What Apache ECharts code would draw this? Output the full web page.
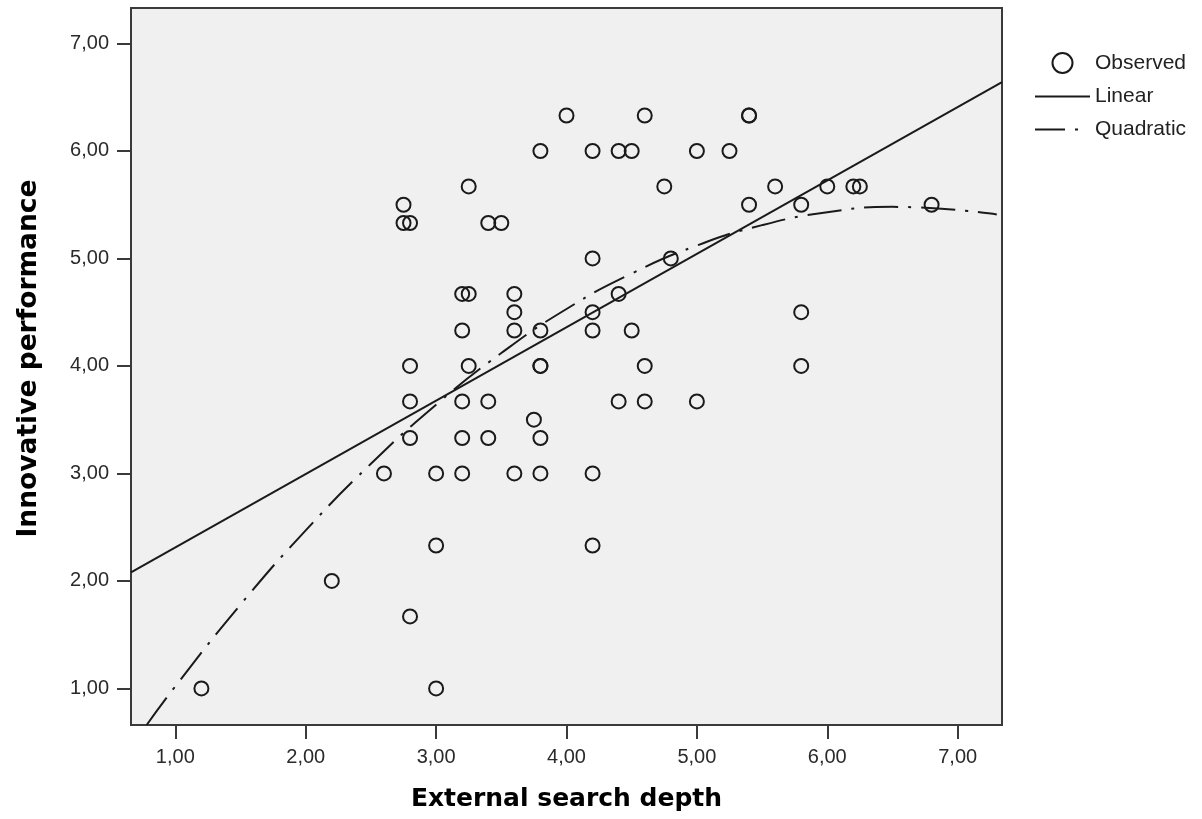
<!DOCTYPE html>
<html>

<head>
    <meta charset="utf-8">
    <title>Innovative performance vs External search depth</title>
    <script src="https://cdn.jsdelivr.net/npm/echarts@6/dist/echarts.min.js"></script>
    <style>
        html, body { margin: 0; padding: 0; background: #ffffff; }
    </style>
</head>

<body>
    <div id="main" style="width: 1202px;height:819px;"></div>
    <script type="text/javascript">
        // observed points (x = search depth, y = performance)
        var obsX = [4.0, 4.6, 5.4, 5.4,
            3.8, 4.2, 4.4, 4.5, 5.0, 5.25,
            3.25, 4.75, 5.6, 6.0, 6.2, 6.25,
            2.75, 5.4, 5.8, 6.8,
            2.75, 2.8, 3.4, 3.5,
            4.2, 4.8,
            3.2, 3.25, 3.6, 4.4,
            3.6, 4.2, 5.8,
            3.2, 3.6, 3.8, 4.2, 4.5,
            2.8, 3.25, 3.8, 3.8, 4.6, 5.8,
            2.8, 3.2, 3.4, 4.4, 4.6, 5.0,
            3.75,
            2.8, 3.2, 3.4, 3.8,
            2.6, 3.0, 3.2, 3.6, 3.8, 4.2,
            3.0, 4.2,
            2.2,
            2.8,
            1.2, 3.0];
        var obsY = [6.33, 6.33, 6.33, 6.33,
            6.0, 6.0, 6.0, 6.0, 6.0, 6.0,
            5.67, 5.67, 5.67, 5.67, 5.67, 5.67,
            5.5, 5.5, 5.5, 5.5,
            5.33, 5.33, 5.33, 5.33,
            5.0, 5.0,
            4.67, 4.67, 4.67, 4.67,
            4.5, 4.5, 4.5,
            4.33, 4.33, 4.33, 4.33, 4.33,
            4.0, 4.0, 4.0, 4.0, 4.0, 4.0,
            3.67, 3.67, 3.67, 3.67, 3.67, 3.67,
            3.5,
            3.33, 3.33, 3.33, 3.33,
            3.0, 3.0, 3.0, 3.0, 3.0, 3.0,
            2.33, 2.33,
            2.0,
            1.67,
            1.0, 1.0];

        // fitted lines
        var linearX = [0.66, 7.34];
        var linearY = [2.08, 6.64];
        var quadX = [0.78, 1.0, 1.5, 2.0, 2.5, 3.0, 3.5, 4.0, 4.5, 5.0, 5.5, 6.0, 6.5, 7.3];
        var quadY = [0.66, 1.02, 1.78, 2.47, 3.09, 3.64, 4.12, 4.53, 4.86, 5.12, 5.31, 5.43, 5.48, 5.41];

        var tickValues = [1, 2, 3, 4, 5, 6, 7];
        var xRange = [0.66, 7.34];
        var yRange = [0.66, 7.33];

        function pairs(xs, ys) {
            var out = [];
            for (var i = 0; i < xs.length; i++) {
                out.push([xs[i], ys[i]]);
            }
            return out;
        }

        function fmt(v) {
            return v.toFixed(2).replace('.', ',');
        }

        var myChart = echarts.init(document.getElementById('main'));

        var axisText = { fontFamily: 'Liberation Sans', fontSize: 20, color: '#2a2a2a' };
        var titleText = { fontFamily: 'DejaVu Sans', fontWeight: 'bold', fontSize: 25, color: '#000' };
        var dark = '#1a1a1a';

        // legend icons: plain stroke and dash + dot (last tiny piece only widens the box)
        var lineIcon = 'path://M0,0 L55,0 L55,2 L0,2 Z';
        var dashDotIcon = 'path://M0,0 L30,0 L30,2 L0,2 Z M40,0 L43,0 L43,2 L40,2 Z M55,0 L55,0.01 L54.99,0.01 Z';

        myChart.setOption({
            backgroundColor: '#ffffff',
            animation: false,
            grid: {
                left: 131, top: 8, right: 200, bottom: 94,
                show: true,
                backgroundColor: '#f0f0f0',
                borderColor: '#3a3a3a',
                borderWidth: 2,
                containLabel: false,
                outerBoundsMode: 'none'
            },
            legend: {
                orient: 'vertical',
                left: 1035,
                top: 52,
                padding: 0,
                itemWidth: 55,
                itemHeight: 20,
                itemGap: 12,
                textStyle: { fontFamily: 'Liberation Sans', fontSize: 21, color: '#222' },
                data: [
                    { name: 'Observed', icon: 'circle', itemStyle: { color: 'rgba(0,0,0,0)', borderColor: dark, borderWidth: 2 } },
                    { name: 'Linear', icon: lineIcon, itemStyle: { color: dark, borderWidth: 0, opacity: 1 } },
                    { name: 'Quadratic', icon: dashDotIcon, itemStyle: { color: dark, borderWidth: 0, opacity: 1 } }
                ]
            },
            xAxis: {
                type: 'value',
                min: xRange[0],
                max: xRange[1],
                name: 'External search depth',
                nameLocation: 'middle',
                nameGap: 62,
                nameTextStyle: titleText,
                axisLine: { show: false },
                axisTick: { show: true, customValues: tickValues, length: 14, lineStyle: { color: '#3a3a3a', width: 2 } },
                axisLabel: Object.assign({ customValues: tickValues, margin: 22, formatter: fmt }, axisText),
                splitLine: { show: false }
            },
            yAxis: {
                type: 'value',
                min: yRange[0],
                max: yRange[1],
                name: 'Innovative performance',
                nameLocation: 'middle',
                nameGap: 88,
                nameTextStyle: Object.assign({}, titleText, { fontSize: 26.5, padding: [0, 0, 0, 16] }),
                axisLine: { show: false },
                axisTick: { show: true, customValues: tickValues, length: 14, lineStyle: { color: '#3a3a3a', width: 2 } },
                axisLabel: Object.assign({ customValues: tickValues, margin: 22, formatter: fmt }, axisText),
                splitLine: { show: false }
            },
            series: [
                {
                    name: 'Observed',
                    type: 'scatter',
                    symbol: 'circle',
                    symbolSize: 14,
                    itemStyle: { color: 'rgba(0,0,0,0)', borderColor: dark, borderWidth: 2, opacity: 1 },
                    data: pairs(obsX, obsY),
                    z: 3
                },
                {
                    name: 'Linear',
                    type: 'line',
                    symbol: 'none',
                    lineStyle: { color: dark, width: 2 },
                    itemStyle: { color: dark },
                    data: pairs(linearX, linearY),
                    z: 2
                },
                {
                    name: 'Quadratic',
                    type: 'line',
                    symbol: 'none',
                    smooth: true,
                    lineStyle: { color: dark, width: 2, type: [34, 10, 3, 10] },
                    itemStyle: { color: dark },
                    data: pairs(quadX, quadY),
                    z: 2
                }
            ]
        });
    </script>
</body>

</html>
